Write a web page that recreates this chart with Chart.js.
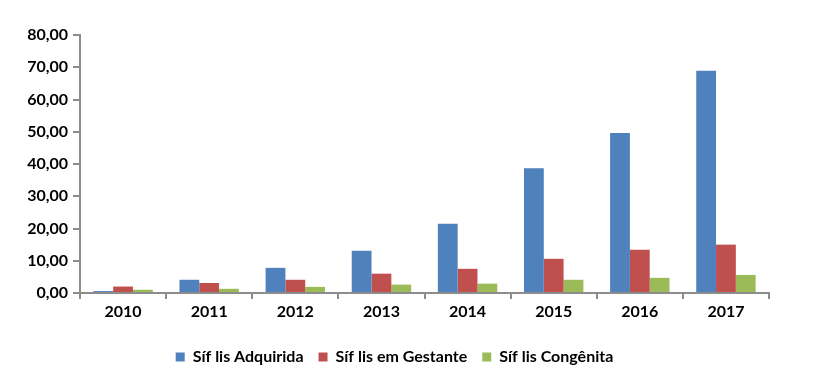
<!DOCTYPE html>
<html>
<head>
<meta charset="utf-8">
<script src="https://cdn.jsdelivr.net/npm/chart.js@4"></script>
<style>
html,body{margin:0;padding:0;background:#fff;}
#wrap{width:823px;height:392px;position:relative;}
</style>
</head>
<body>
<div id="wrap"><canvas id="c" width="823" height="392"></canvas></div>
<script>
const categories = ['2010','2011','2012','2013','2014','2015','2016','2017'];
const adquirida = [0.6, 4.1, 7.8, 13.1, 21.5, 38.7, 49.6, 68.9];
const gestante = [2.0, 3.1, 4.1, 6.0, 7.5, 10.6, 13.4, 15.0];
const congenita = [1.0, 1.3, 1.9, 2.6, 2.9, 4.1, 4.7, 5.6];
const seriesNames = ['Síf lis Adquirida', 'Síf lis em Gestante', 'Síf lis Congênita'];
const colors = ['#4F81BD', '#C0504D', '#9BBB59'];
const yTicks = [0, 10, 20, 30, 40, 50, 60, 70, 80];

const FONT = 'Lato, "Open Sans", sans-serif';
const axisColor = '#8C8C8C';

const legendShift = {
  id: 'legendShift',
  afterLayout(chart) {
    const l = chart.legend;
    if (l) { l.left += 10; l.right += 10; }
  }
};

new Chart(document.getElementById('c'), {
  type: 'bar',
  data: {
    labels: categories,
    datasets: [adquirida, gestante, congenita].map((d, i) => ({
      label: seriesNames[i],
      data: d,
      backgroundColor: colors[i],
      borderWidth: 0,
      categoryPercentage: 0.69,
      barPercentage: 1.0
    }))
  },
  plugins: [legendShift],
  options: {
    responsive: false,
    animation: false,
    devicePixelRatio: 1,
    layout: { padding: { left: 0, right: 54, top: 35, bottom: 17 } },
    plugins: {
      tooltip: { enabled: false },
      legend: {
        position: 'bottom',
        labels: {
          boxWidth: 9, boxHeight: 9,
          color: '#000',
          font: { family: FONT, size: 16, weight: 'bold' },
          padding: 15
        }
      }
    },
    scales: {
      x: {
        border: { display: true, color: axisColor, width: 2 },
        grid: { display: true, drawOnChartArea: false, drawTicks: true, tickLength: 6, tickColor: axisColor, lineWidth: 2, offset: true },
        ticks: { color: '#000', font: { family: FONT, size: 16, weight: 'bold' }, padding: 3 },
        afterFit: s => { s.height = 41; }
      },
      y: {
        min: 0, max: 80,
        afterBuildTicks: s => { s.ticks = yTicks.map(v => ({ value: v })); },
        border: { display: true, color: axisColor, width: 2 },
        grid: { display: true, drawOnChartArea: false, drawTicks: true, tickLength: 7, tickColor: axisColor, lineWidth: 2 },
        ticks: {
          color: '#000',
          font: { family: FONT, size: 16, weight: 'bold' },
          padding: 5,
          callback: v => Number(v).toFixed(2).replace('.', ',')
        },
        afterFit: s => { s.width = 80; }
      }
    }
  }
});
</script>
</body>
</html>
